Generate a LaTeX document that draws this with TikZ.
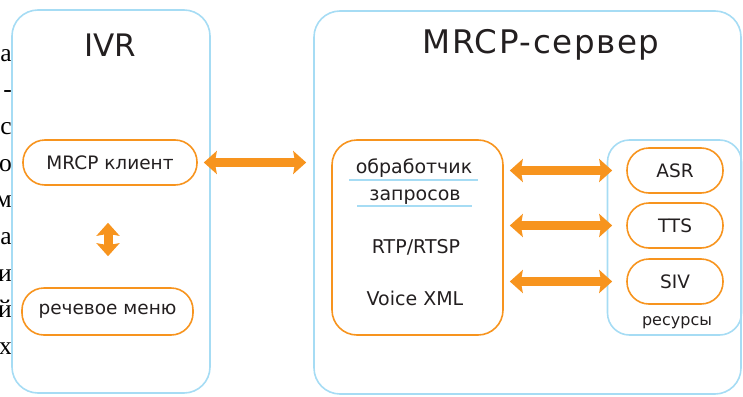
\documentclass[tikz,border=0pt]{standalone}
\usepackage{fontspec}
\setmainfont{DejaVu Sans}
\newfontfamily\edgefont{Liberation Serif}
\newfontfamily\widefont[LetterSpace=5]{DejaVu Sans}
\usetikzlibrary{arrows.meta}
\definecolor{orng}{HTML}{F7941E}
\definecolor{lblue}{HTML}{A6DCF4}
\definecolor{txt}{HTML}{231F20}
\tikzset{
  bigbox/.style={draw=lblue, line width=1.6pt, rounded corners=26pt, inner sep=0pt},
  pill/.style={draw=orng, line width=1.6pt, rounded corners=22pt, inner sep=0pt, text=txt, font=\fontsize{18.5}{22}\selectfont},
  obox/.style={draw=orng, line width=1.6pt, rounded corners=25pt, inner sep=0pt},
  rbox/.style={draw=lblue, line width=1.6pt, rounded corners=22pt, inner sep=0pt},
  title/.style={text=txt, inner sep=0pt, font=\fontsize{31}{35}\selectfont},
  lbl/.style={text=txt, inner sep=0pt, font=\fontsize{19}{22}\selectfont},
  edge/.style={text=black, inner sep=0pt, anchor=base east, font=\edgefont\fontsize{25.5}{28}\selectfont},
  dblarrow/.style={draw=orng, line width=9pt,
    {Stealth[length=13pt,width=23pt,inset=2pt]}-{Stealth[length=13pt,width=23pt,inset=2pt]}},
  uline/.style={draw=lblue, line width=1.4pt}
}
\begin{document}
\begin{tikzpicture}[x=1pt,y=-1pt]
\useasboundingbox (0,0) rectangle (743,396);
% left margin fragment text
\foreach \ch [count=\i from 0] in {а,-,с,о,м,а,и,й,х}
  \node[edge] (e\i) at (12,61+36.7*\i) {\ch};
% big boxes
\node[bigbox, minimum width=198pt, minimum height=383pt] (ivr) at (111,201.5) {};
\node[bigbox, minimum width=427pt, minimum height=383pt] (srv) at (527.5,202.5) {};
\node[title] (ivrt) at (110,45) {IVR};
\node[title, font=\widefont\fontsize{32.5}{35}\selectfont] (srvt) at (541,45) {MRCP-сервер};
% IVR content
\node[pill, minimum width=174pt, minimum height=45pt] (mrcp) at (110,162.5) {MRCP клиент};
\node[pill, minimum width=171pt, minimum height=47pt] (menu) at (107.5,311.5) {речевое меню};
% server content
\node[obox, minimum width=171pt, minimum height=195pt] (hnd) at (417.5,237.5) {};
\node[lbl, anchor=base] (h1) at (414,173) {обработчик};
\node[lbl, anchor=base] (h2) at (415,200) {запросов};
\node[lbl] (h3) at (416,247) {RTP/RTSP};
\node[lbl] (h4) at (415,298.5) {Voice XML};
\draw[uline] (349,180) -- (478,180);
\draw[uline] (357,206) -- (472,206);
\node[rbox, minimum width=134pt, minimum height=195pt] (res) at (674.5,237.5) {};
\node[pill, minimum width=96pt, minimum height=45pt] (asr) at (675,170.5) {ASR};
\node[pill, minimum width=96pt, minimum height=45pt] (tts) at (675,225.5) {TTS};
\node[pill, minimum width=96pt, minimum height=45pt] (siv) at (675,281.5) {SIV};
\node[lbl, font=\fontsize{16}{18}\selectfont] (rest) at (677,323) {ресурсы};
% arrows
\draw[dblarrow, shorten <=6pt, shorten >=25pt] (mrcp.east) -- (mrcp.east -| hnd.west);
\draw[dblarrow, shorten <=37pt, shorten >=31pt] ([xshift=-2pt]mrcp.south) -- ([xshift=-2pt]mrcp.south |- menu.north);
\draw[dblarrow, shorten <=6pt, shorten >=14pt] (asr.west -| hnd.east) -- (asr.west);
\draw[dblarrow, shorten <=6pt, shorten >=14pt] (tts.west -| hnd.east) -- (tts.west);
\draw[dblarrow, shorten <=6pt, shorten >=14pt] (siv.west -| hnd.east) -- (siv.west);
\end{tikzpicture}
\end{document}
